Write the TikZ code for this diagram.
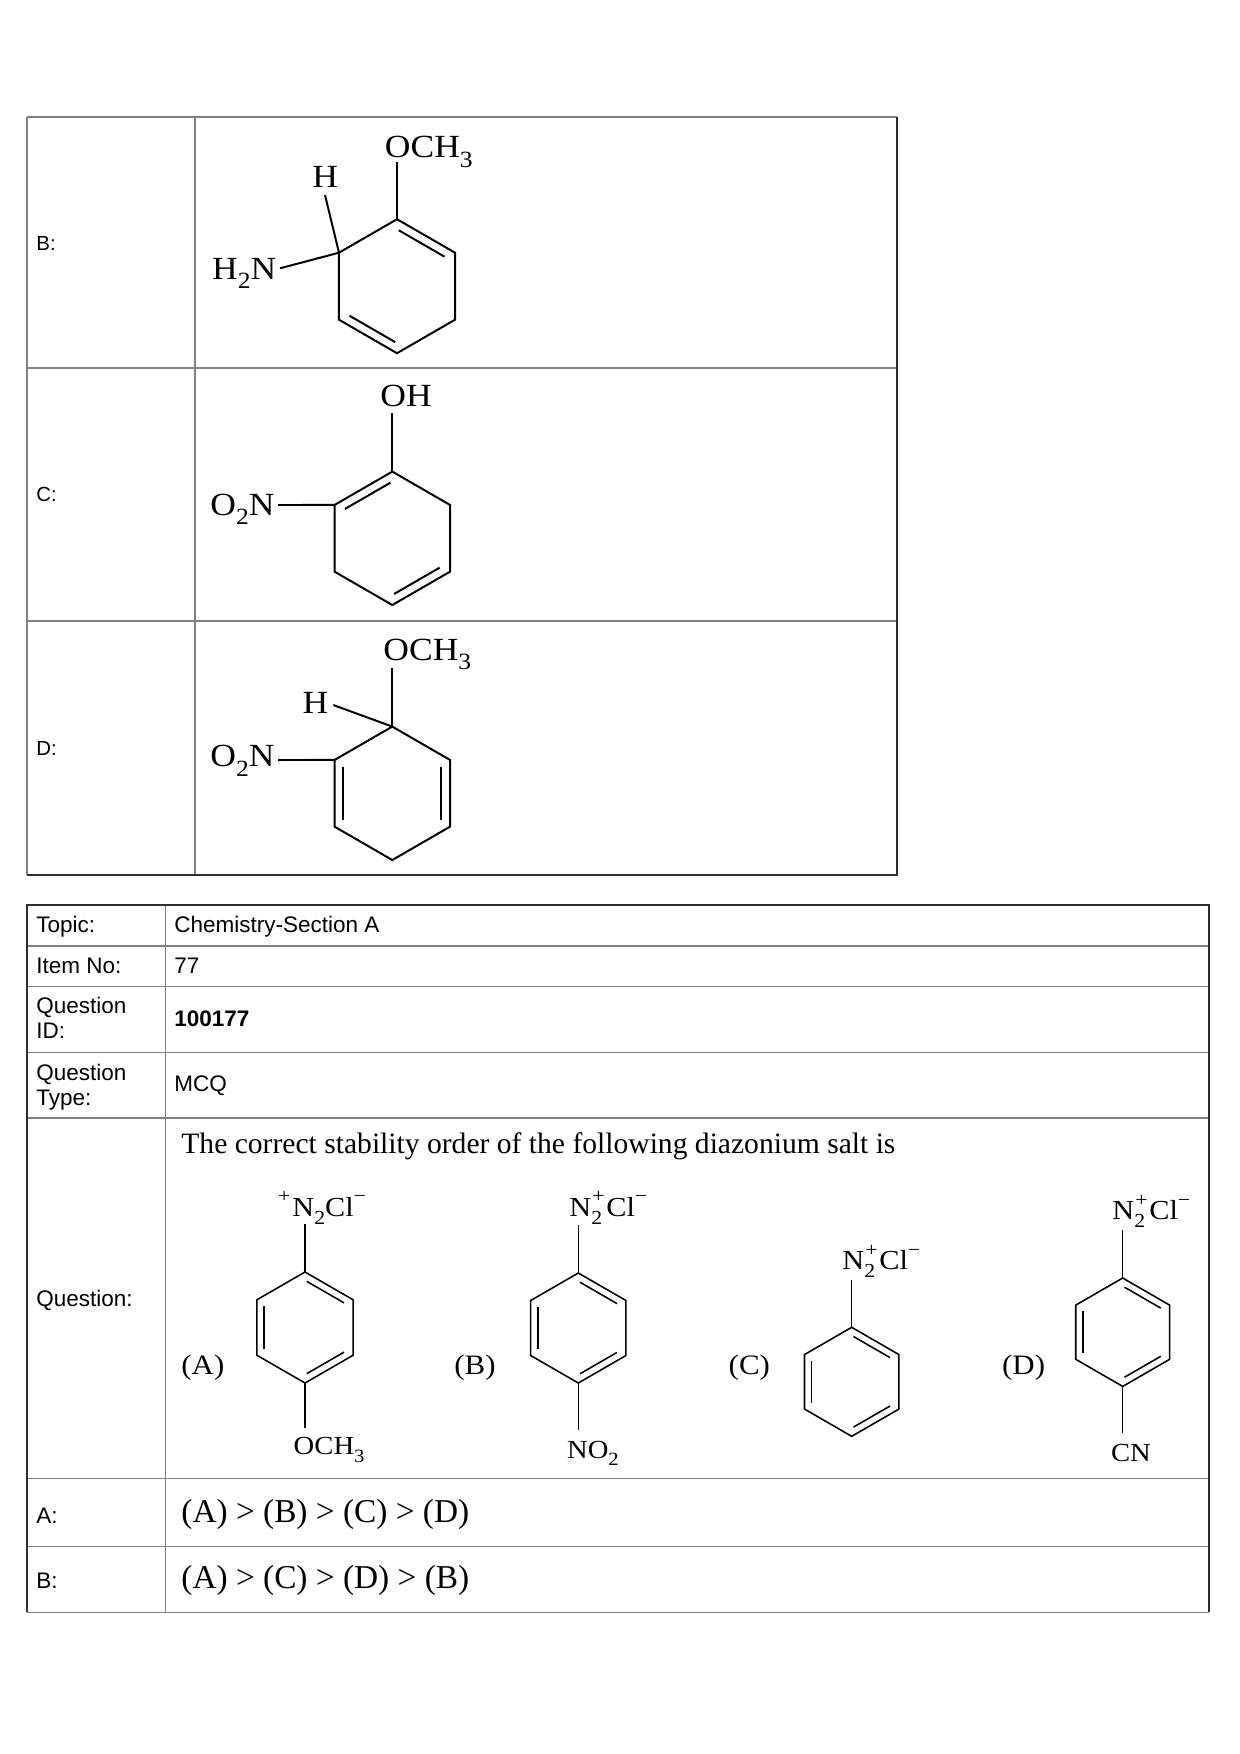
\documentclass[tikz,border=0pt]{standalone}
\usepackage{fontspec}
\setmainfont{Liberation Serif}
\newfontfamily\sansf{Liberation Sans}
\newfontfamily\chemf[FakeStretch=1.1]{Liberation Serif}
\newfontfamily\serf{Liberation Serif}
\usetikzlibrary{calc}
\definecolor{gridgray}{gray}{0.5}
\definecolor{edgedark}{gray}{0.18}
\newcommand\ring[5]{%
  \coordinate (#1c) at (#2,#3);
  \foreach \a [count=\i] in {-90,-30,30,90,150,210} {\coordinate (#1\i) at ($(#1c)+(\a:#4)$);}
  \draw[#5] (#11)--(#12)--(#13)--(#14)--(#15)--(#16)--cycle;}
\newcommand\dbl[4]{\draw[#4,shorten <=1pt,shorten >=1pt] ($(#1#2)!0.15!(#1c)$) -- ($(#1#3)!0.15!(#1c)$);}
\newcommand\chsub[1]{\raisebox{-0.3em}{\scalebox{0.72}{#1}}}
\newcommand\chsup[1]{\raisebox{0.48em}{\scalebox{0.72}{#1}}}
\newcommand\diaz{N\makebox[0pt][l]{\kern0.5pt\chsup{+}}\chsub{2}\kern2pt Cl\chsup{−}}
\begin{document}
\begin{tikzpicture}[x=0.48pt,y=-0.48pt,
  grid/.style={draw=gridgray,line width=0.8pt},
  dark/.style={draw=edgedark,line width=0.8pt},
  bondL/.style={line width=0.95pt},
  bondS/.style={line width=0.75pt},
  lblT/.style={anchor=base west,inner sep=0pt,font=\sansf\fontsize{9.8pt}{11pt}\selectfont},
  lbl/.style={anchor=base west,inner sep=0pt,align=left,font=\sansf\fontsize{10.8pt}{11.7pt}\selectfont},
  atomL/.style={inner sep=0pt,font=\chemf\fontsize{15.5pt}{18pt}\selectfont},
  atomS/.style={inner sep=0pt,font=\chemf\fontsize{12.5pt}{14pt}\selectfont},
  atomD/.style={inner sep=0pt,font=\chemf\fontsize{13.2pt}{15pt}\selectfont},
  optlab/.style={anchor=base west,inner sep=0pt,font=\chemf\fontsize{13.5pt}{15pt}\selectfont},
  answer/.style={anchor=west,inner sep=0pt,font=\serf\fontsize{16pt}{18pt}\selectfont}]
\fill[white] (0,0) rectangle (1240,1754);
\useasboundingbox (0,0) rectangle (1240,1754);

% ---------- upper table ----------
\draw[grid] (27.3,117.3) -- (897.3,117.3);
\draw[grid] (27.3,117.3) -- (27.3,875);
\draw[grid] (195,117.3) -- (195,875);
\draw[grid] (27.3,368.3) -- (897.3,368.3);
\draw[grid] (27.3,620.7) -- (897.3,620.7);
\draw[dark] (897.3,117.3) -- (897.3,875) -- (27.3,875);

\node[lblT] (tB) at (36,250) {B:};
\node[lblT] (tC) at (36,501.5) {C:};
\node[lblT] (tD) at (36,755) {D:};

% molecule B (upper)
\ring{ub}{397}{286.2}{67}{bondL}
\dbl{ub}{1}{2}{bondL}
\dbl{ub}{4}{5}{bondL}
\node[atomL,anchor=base west] (ubO) at (384.5,157.7) {OCH\chsub{3}};
\node[atomL,anchor=base] (ubH) at (325.3,187.7) {H};
\node[atomL,anchor=base east] (ubN) at (276.7,279) {H\chsub{2}N};
\coordinate (ubOe) at (397,161.7);
\coordinate (ubHe) at (325,195);
\coordinate (ubNe) at (280,268.3);
\draw[bondL] (ub1) -- (ubOe);
\draw[bondL] (ub6) -- (ubHe);
\draw[bondL] (ub6) -- (ubNe);

% molecule C (upper)
\ring{uc}{392.3}{538.3}{66.7}{bondL}
\dbl{uc}{6}{1}{bondL}
\dbl{uc}{3}{4}{bondL}
\node[atomL,anchor=base west] (ucO) at (380,406.7) {OH};
\node[atomL,anchor=base east] (ucN) at (275,515) {O\chsub{2}N};
\coordinate (ucOe) at (392.3,413.3);
\coordinate (ucNe) at (278,505);
\draw[bondL] (uc1) -- (ucOe);
\draw[bondL] (uc6) -- (ucNe);

% molecule D (upper)
\ring{ud}{392.3}{793.3}{66.7}{bondL}
\dbl{ud}{5}{6}{bondL}
\dbl{ud}{2}{3}{bondL}
\node[atomL,anchor=base west] (udO) at (383,660) {OCH\chsub{3}};
\node[atomL,anchor=base] (udH) at (315.5,713.3) {H};
\node[atomL,anchor=base east] (udN) at (275,766.7) {O\chsub{2}N};
\coordinate (udOe) at (392.3,668.3);
\coordinate (udHe) at (333.3,705);
\coordinate (udNe) at (278,760);
\draw[bondL] (ud1) -- (udOe);
\draw[bondL] (ud1) -- (udHe);
\draw[bondL] (ud6) -- (udNe);

% ---------- lower table ----------
\draw[grid] (165.5,905) -- (165.5,1612.4);
\foreach \yy in {946,986.5,1052.5,1118.3,1478.5,1546.6}
  \draw[grid] (27.3,\yy) -- (1209.3,\yy);
\draw[grid] (27.3,1612.4) -- (1209.3,1612.4);
\draw[dark] (27.3,1612.4) -- (27.3,905) -- (1209.3,905) -- (1209.3,1612.4);

\node[lbl] (l1) at (36,932.7) {Topic:};
\node[lbl] (l2) at (36,973.3) {Item No:};
\node[lbl] (l3) at (36,1038.3) {Question\\ID:};
\node[lbl] (l4) at (36,1105) {Question\\Type:};
\node[lbl] (l5) at (36,1306) {Question:};
\node[lbl] (l6) at (36,1523) {A:};
\node[lbl] (l7) at (36,1588.3) {B:};

\node[lbl] (v1) at (174,932.7) {Chemistry-Section A};
\node[lbl] (v2) at (174,973.3) {77};
\node[lbl] (v3) at (174,1026.7) {\bfseries 100177};
\node[lbl] (v4) at (174,1091.7) {MCQ};

\node[anchor=base west,inner sep=0pt] (qtext) at (181,1153)
  {\resizebox{342.7pt}{!}{\serf\fontsize{13pt}{15pt}\selectfont The correct stability order of the following diazonium salt is}};

% molecule (A)
\ring{ma}{305}{1327.5}{55.5}{bondS}
\dbl{ma}{1}{2}{bondS}
\dbl{ma}{3}{4}{bondS}
\dbl{ma}{5}{6}{bondS}
\node[atomD,anchor=base west] (maT) at (292,1216) {\llap{\chsup{+}\kern1pt}N\chsub{2}Cl\chsup{−}};
\node[atomS,anchor=base west] (maB) at (293.3,1454.7) {OCH\chsub{3}};
\coordinate (maTe) at (305,1224);
\coordinate (maBe) at (305,1428);
\draw[bondS] (ma1) -- (maTe);
\draw[bondS] (ma4) -- (maBe);
\node[optlab] (oA) at (181,1374.7) {(A)};

% molecule (B)
\ring{mb}{578.3}{1328}{55}{bondS}
\dbl{mb}{1}{2}{bondS}
\dbl{mb}{3}{4}{bondS}
\dbl{mb}{5}{6}{bondS}
\node[atomD,anchor=base west] (mbT) at (569,1216) {\diaz};
\node[atomS,anchor=base west] (mbB) at (566.7,1458) {NO\chsub{2}};
\coordinate (mbTe) at (578.3,1225.3);
\coordinate (mbBe) at (578.3,1429.7);
\draw[bondS] (mb1) -- (mbTe);
\draw[bondS] (mb4) -- (mbBe);
\node[optlab] (oB) at (454,1374.7) {(B)};

% molecule (C)
\ring{mc}{851.7}{1381.8}{54.5}{bondS}
\dbl{mc}{1}{2}{bondS}
\dbl{mc}{3}{4}{bondS}
\dbl{mc}{5}{6}{bondS}
\node[atomD,anchor=base west] (mcT) at (842,1269.7) {\diaz};
\coordinate (mcTe) at (851.7,1279.7);
\draw[bondS] (mc1) -- (mcTe);
\node[optlab] (oC) at (728.3,1374.7) {(C)};

% molecule (D)
\ring{md}{1122.7}{1332.2}{54.2}{bondS}
\dbl{md}{1}{2}{bondS}
\dbl{md}{3}{4}{bondS}
\dbl{md}{5}{6}{bondS}
\node[atomD,anchor=base west] (mdT) at (1112,1219.7) {\diaz};
\node[atomS,anchor=base west] (mdB) at (1110.7,1461.3) {CN};
\coordinate (mdTe) at (1122.7,1229.7);
\coordinate (mdBe) at (1122.7,1433);
\draw[bondS] (md1) -- (mdTe);
\draw[bondS] (md4) -- (mdBe);
\node[optlab] (oD) at (1001.7,1374.7) {(D)};

% answers
\node[answer] (ansA) at (181,1514.8) {(A) > (B) > (C) > (D)};
\node[answer] (ansB) at (181,1580) {(A) > (C) > (D) > (B)};
\end{tikzpicture}
\end{document}
